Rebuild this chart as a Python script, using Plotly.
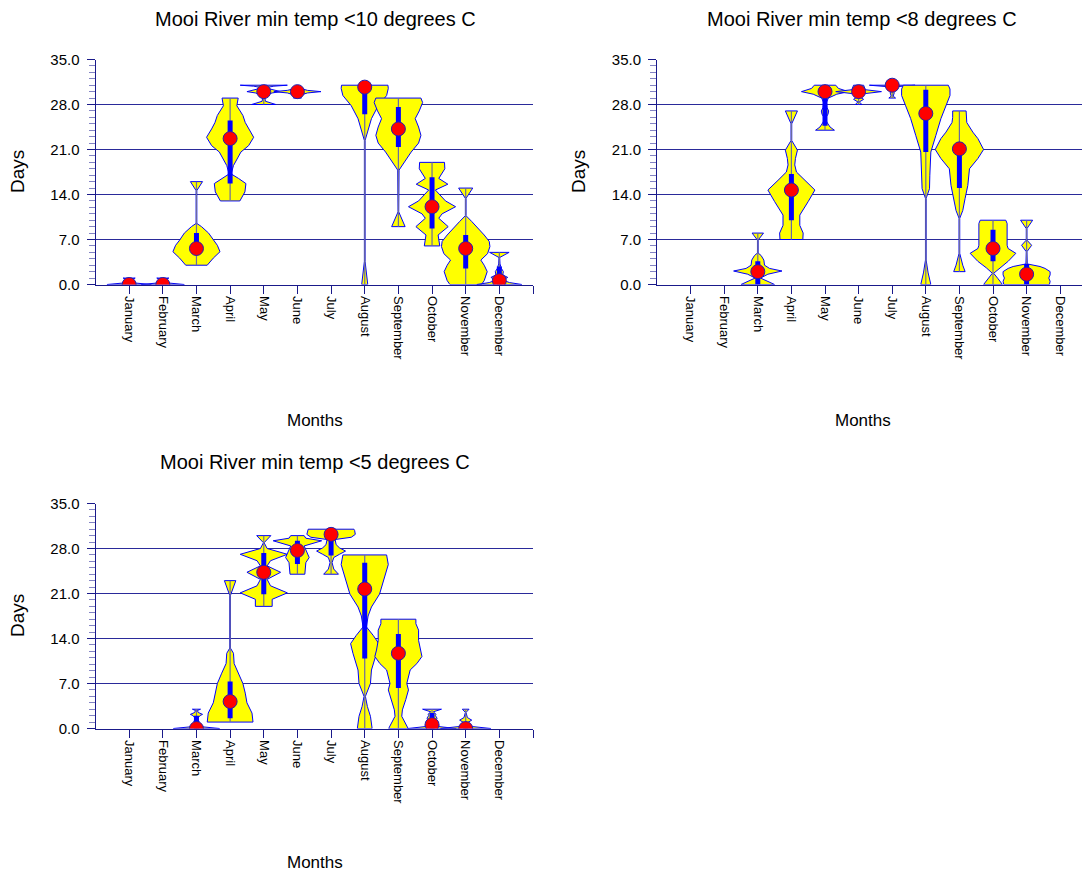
import plotly.graph_objects as go

MONTHS = ["January", "February", "March", "April", "May", "June", "July",
          "August", "September", "October", "November", "December"]
Y_TICKS = [0, 7, 14, 21, 28, 35]
Y_TICK_TEXT = ["0.0", "7.0", "14.0", "21.0", "28.0", "35.0"]
GRID_DAYS = [7, 14, 21, 28]

# ---- Panel 1: min temp < 10 C  (density profile: (days, half-width in month units))
PROFILE_LT10 = {
    "January": [(0, 0.66), (0.15, 0.3), (0.3, 0.03), (0.7, 0.03), (0.85, 0.1), (1.0, 0.18)],
    "February": [(0, 0.64), (0.15, 0.3), (0.3, 0.03), (0.7, 0.03), (0.85, 0.1), (1.0, 0.18)],
    "March": [(3, 0.32), (4.1, 0.5), (5.1, 0.7), (6.1, 0.62), (6.9, 0.5), (8, 0.36), (9, 0.15),
              (9.5, 0.01), (14.6, 0.01), (16, 0.18)],
    "April": [(13, 0.29), (14.4, 0.44), (15.7, 0.47), (16.5, 0.25), (17.2, 0.03), (18.5, 0.1),
              (20.6, 0.32), (21.6, 0.55), (22.9, 0.7), (24.2, 0.55), (25.2, 0.45), (26.3, 0.38),
              (27.8, 0.2), (29, 0.24)],
    "May": [(28, 0.36), (28.5, 0.05), (29.4, 0.02), (29.8, 0.25), (30, 0.5), (30.3, 0.25),
            (30.6, 0.04), (30.85, 0.3), (31, 0.7)],
    "June": [(29, 0.12), (29.4, 0.05), (29.8, 0.3), (30, 0.7), (30.2, 0.3), (30.6, 0.02)],
    "July": [],
    "August": [(0, 0.09), (1.5, 0.05), (3.6, 0.01), (22.4, 0.01), (23.7, 0.08), (25.8, 0.2),
               (27.8, 0.4), (29.4, 0.65), (30.5, 0.7), (31, 0.69)],
    "September": [(9, 0.2), (10.2, 0.1), (11.3, 0.01), (17.8, 0.02), (19, 0.18), (20.6, 0.38),
                  (22, 0.6), (23.2, 0.67), (24.5, 0.6), (25.8, 0.5), (27, 0.62), (28.3, 0.72),
                  (29, 0.67)],
    "October": [(6, 0.23), (7.7, 0.18), (9, 0.48), (10.3, 0.2), (11, 0.3), (12.1, 0.7), (13, 0.4),
                (14.7, 0.1), (15.6, 0.47), (16.5, 0.2), (18, 0.38), (19, 0.37)],
    "November": [(0, 0.47), (0.6, 0.55), (2, 0.64), (3, 0.55), (3.8, 0.45), (4.8, 0.65),
                 (5.9, 0.72), (6.7, 0.7), (7.7, 0.55), (8.7, 0.38), (9.8, 0.18), (10.7, 0.01),
                 (13.4, 0.01), (15, 0.21)],
    "December": [(0, 0.67), (0.3, 0.3), (0.7, 0.1), (1.1, 0.25), (1.5, 0.1), (2, 0.12),
                 (2.5, 0.06), (3.2, 0.02), (4.2, 0.01), (5, 0.29)],
}
MEDIAN_LT10 = [0, 0, 5.6, 22.7, 30, 30, None, 30.7, 24.2, 12.1, 5.6, 0.6]
Q1_LT10 = [0, 0, 4.8, 15.7, 30, 30, None, 26.5, 21.4, 8.7, 2.5, 0]
Q3_LT10 = [0, 0, 8.0, 25.5, 30, 30, None, 31, 27.6, 16.7, 7.7, 2.8]
MIN_LT10 = [0, 0, 3, 13, 28, 29, None, 0, 9, 6, 0, 0]
MAX_LT10 = [1, 1, 16, 29, 31, 30.6, None, 31, 29, 19, 15, 5]

# ---- Panel 2: min temp < 8 C
PROFILE_LT8 = {
    "January": [], "February": [],
    "March": [(0, 0.5), (0.5, 0.28), (1, 0.08), (1.6, 0.3), (2.1, 0.72), (2.5, 0.35), (3, 0.2),
              (3.8, 0.18), (4.5, 0.1), (4.9, 0.01), (6.9, 0.01), (8, 0.17)],
    "April": [(7, 0.34), (8, 0.35), (9.2, 0.25), (10.8, 0.25), (12.9, 0.5), (14.7, 0.7),
              (16.2, 0.4), (17.5, 0.15), (18.6, 0.1), (19.6, 0.12), (20.9, 0.18), (22.4, 0.01),
              (25, 0.01), (27, 0.18)],
    "May": [(24, 0.28), (24.5, 0.15), (25.3, 0.05), (26, 0.03), (26.5, 0.09), (27, 0.11),
            (27.5, 0.06), (28.3, 0.04), (29, 0.1), (29.6, 0.35), (30, 0.7), (30.5, 0.4),
            (31, 0.32)],
    "June": [(28, 0.1), (28.4, 0.02), (28.8, 0.15), (29.2, 0.03), (29.7, 0.2), (30, 0.68),
             (30.3, 0.2), (31, 0.15)],
    "July": [(29, 0.1), (29.3, 0.03), (29.8, 0.06), (30.3, 0.02), (30.8, 0.2), (31, 0.68)],
    "August": [(0, 0.15), (1.8, 0.07), (3.8, 0.01), (13.4, 0.01), (14.9, 0.11), (17, 0.12),
               (20.6, 0.15), (23.2, 0.3), (25.8, 0.45), (27.8, 0.6), (29.4, 0.72), (30.4, 0.72),
               (31, 0.67)],
    "September": [(2, 0.17), (3, 0.1), (4.85, 0.01), (10.3, 0.01), (11.5, 0.1), (13.4, 0.17),
                  (15.4, 0.25), (18, 0.3), (19.6, 0.55), (21, 0.72), (22.7, 0.55), (23.7, 0.4),
                  (25.2, 0.22), (26, 0.2), (27, 0.2)],
    "October": [(0, 0.28), (0.9, 0.15), (1.75, 0.02), (2.6, 0.2), (3.6, 0.45), (4.85, 0.68),
                (5.6, 0.45), (6.1, 0.42), (9.5, 0.42), (10, 0.38)],
    "November": [(0, 0.68), (0.5, 0.7), (1, 0.66), (1.5, 0.7), (2, 0.7), (2.5, 0.55), (2.8, 0.4),
                 (3.2, 0.02), (5.1, 0.01), (6.1, 0.15), (6.9, 0.01), (8.7, 0.01), (10, 0.18)],
    "December": [],
}
MEDIAN_LT8 = [None, None, 2.0, 14.7, 30, 30, 31, 26.6, 21.1, 5.6, 1.6, None]
Q1_LT8 = [None, None, 0, 10.0, 24.7, 30, 31, 20.6, 15.0, 3.6, 0, None]
Q3_LT8 = [None, None, 3.6, 17.2, 30, 30, 31, 30.3, 21.5, 8.5, 3.2, None]
MIN_LT8 = [None, None, 0, 7, 24, 28, 29, 0, 2, 0, 0, None]
MAX_LT8 = [None, None, 8, 27, 31, 31, 31, 31, 27, 10, 10, None]

# ---- Panel 3: min temp < 5 C
PROFILE_LT5 = {
    "January": [], "February": [],
    "March": [(0, 0.69), (0.3, 0.1), (0.7, 0.03), (1.1, 0.08), (1.5, 0.03), (2.0, 0.1),
              (2.2, 0.18), (2.5, 0.05), (2.8, 0.03), (3, 0.12)],
    "April": [(1, 0.68), (2.4, 0.65), (4, 0.5), (5.5, 0.45), (7, 0.38), (8.6, 0.25), (10.1, 0.12),
              (11.7, 0.1), (12.5, 0.01), (20.7, 0.01), (23, 0.17)],
    "May": [(19, 0.25), (20.1, 0.25), (21.1, 0.7), (22.2, 0.2), (23.2, 0.1), (24.3, 0.5),
            (25.3, 0.1), (26.1, 0.2), (27.1, 0.7), (28, 0.1), (28.9, 0.01), (30, 0.21)],
    "June": [(24, 0.22), (25.8, 0.25), (26.6, 0.35), (27.7, 0.25), (28.4, 0.2), (29.2, 0.72),
             (29.6, 0.25), (30, 0.2)],
    "July": [(24, 0.22), (24.8, 0.08), (25.8, 0.03), (26.6, 0.08), (27.1, 0.25), (27.6, 0.43),
             (28.1, 0.25), (28.6, 0.15), (29.4, 0.12), (29.75, 0.6), (30.2, 0.72), (30.8, 0.7),
             (31, 0.68)],
    "August": [(0, 0.22), (1.9, 0.17), (3.4, 0.08), (5, 0.02), (7, 0.17), (9.1, 0.2),
               (11.7, 0.35), (13.2, 0.42), (14.5, 0.25), (15.8, 0.05), (17.5, 0.1), (18.9, 0.2),
               (20.9, 0.44), (23, 0.55), (25.5, 0.7), (27, 0.65)],
    "September": [(0, 0.29), (1.9, 0.1), (2.9, 0.12), (4.5, 0.22), (6, 0.3), (7, 0.25),
                  (9.1, 0.35), (10.1, 0.55), (11.2, 0.7), (12.2, 0.65), (13.7, 0.6), (15.3, 0.6),
                  (16.3, 0.52), (17, 0.52)],
    "October": [(0, 0.72), (0.3, 0.2), (0.6, 0.2), (0.9, 0.05), (1.1, 0.08), (1.6, 0.15),
                (2.0, 0.1), (2.2, 0.12), (2.6, 0.04), (3, 0.28)],
    "November": [(0, 0.75), (0.3, 0.2), (0.6, 0.05), (0.9, 0.05), (1.3, 0.18), (1.7, 0.05),
                 (2.5, 0.01), (3, 0.1)],
    "December": [],
}
MEDIAN_LT5 = [None, None, 0, 4.2, 24.3, 27.7, 30.2, 21.7, 11.7, 0.6, 0, None]
Q1_LT5 = [None, None, 0, 1.6, 20.9, 25.6, 26.9, 10.9, 6.3, 0, 0, None]
Q3_LT5 = [None, None, 2.0, 7.3, 27.3, 29.2, 31, 25.8, 14.7, 2.4, 1.0, None]
MIN_LT5 = [None, None, 0, 1, 19, 24, 24, 0, 0, 0, 0, None]
MAX_LT5 = [None, None, 3, 23, 30, 30, 31, 27, 17, 3, 3, None]

TITLES = ["Mooi River min temp <10 degrees C", "Mooi River min temp <8 degrees C",
          "Mooi River min temp <5 degrees C"]

FONT = "Liberation Sans, Arial, sans-serif"
NAVY = "#1a1a8a"
GRID = "#2a2a9a"
YELLOW = "#FFFF00"
BLUE = "#0000FF"

fig = go.Figure()

panels = [
    dict(prof=PROFILE_LT10, med=MEDIAN_LT10, q1=Q1_LT10, q3=Q3_LT10, mn=MIN_LT10, mx=MAX_LT10,
         xa="x", ya="y"),
    dict(prof=PROFILE_LT8, med=MEDIAN_LT8, q1=Q1_LT8, q3=Q3_LT8, mn=MIN_LT8, mx=MAX_LT8,
         xa="x2", ya="y2"),
    dict(prof=PROFILE_LT5, med=MEDIAN_LT5, q1=Q1_LT5, q3=Q3_LT5, mn=MIN_LT5, mx=MAX_LT5,
         xa="x3", ya="y3"),
]

for p in panels:
    # violin bodies
    for i, m in enumerate(MONTHS):
        prof = p["prof"][m]
        if not prof:
            continue
        c = i + 1
        days = [d for d, w in prof]
        hws = [w for d, w in prof]
        xs = [c - w for w in hws] + [c + w for w in reversed(hws)] + [c - hws[0]]
        ys = days + list(reversed(days)) + [days[0]]
        fig.add_trace(go.Scatter(x=xs, y=ys, xaxis=p["xa"], yaxis=p["ya"], mode="lines",
                                 fill="toself", fillcolor=YELLOW,
                                 line=dict(color=BLUE, width=1), hoverinfo="skip",
                                 showlegend=False))
    # thin whisker line (min..max)
    tx, ty = [], []
    for i in range(12):
        if p["mn"][i] is None:
            continue
        tx += [i + 1, i + 1, None]
        ty += [p["mn"][i], p["mx"][i], None]
    fig.add_trace(go.Scatter(x=tx, y=ty, xaxis=p["xa"], yaxis=p["ya"], mode="lines",
                             line=dict(color="#6a6aa0", width=1.2), hoverinfo="skip",
                             showlegend=False))
    # thick IQR bar
    bx, by = [], []
    for i in range(12):
        if p["q1"][i] is None:
            continue
        bx += [i + 1, i + 1, None]
        by += [p["q1"][i], p["q3"][i], None]
    fig.add_trace(go.Scatter(x=bx, y=by, xaxis=p["xa"], yaxis=p["ya"], mode="lines",
                             line=dict(color=BLUE, width=5), hoverinfo="skip",
                             showlegend=False))
    # median dots
    mx_, my_ = [], []
    for i in range(12):
        if p["med"][i] is None:
            continue
        mx_.append(i + 1)
        my_.append(p["med"][i])
    fig.add_trace(go.Scatter(x=mx_, y=my_, xaxis=p["xa"], yaxis=p["ya"], mode="markers",
                             marker=dict(color="#FF0000", size=14,
                                         line=dict(color="#2020B0", width=1)),
                             hoverinfo="skip", showlegend=False))

W, H = 1090, 873
OFF = 8  # the page body margin shifts the figure by this many pixels


def px_x(v):
    return (v - OFF) / W


def px_y(v):
    return 1 - (v - OFF) / H


xdom_left = [px_x(95.5), px_x(533)]
xdom_right = [px_x(657), px_x(657 + 13 * 33.6)]
# 45 px per week so that the weekly grid lines fall on whole pixel rows
ydom_top = [px_y(284.5), px_y(284.5 - 225)]
ydom_bot = [px_y(728.5), px_y(728.5 - 225)]

xaxis_common = dict(
    tickmode="array", tickvals=list(range(1, 14)), ticktext=MONTHS + [""],
    tickangle=90, ticks="outside", ticklen=8, tickcolor=NAVY, tickwidth=1,
    showline=True, linecolor=NAVY, linewidth=1, showgrid=False, zeroline=False,
    tickfont=dict(family=FONT, size=13, color="black"), automargin=False, range=[0, 13],
)
yaxis_common = dict(
    tickmode="array", tickvals=Y_TICKS, ticktext=Y_TICK_TEXT, range=[0, 35],
    ticks="outside", ticklen=8, tickcolor=NAVY, tickwidth=1, ticklabelstandoff=4,
    showline=True, linecolor=NAVY, linewidth=1, showgrid=False, zeroline=False,
    tickfont=dict(family=FONT, size=15, color="black"), automargin=False,
    minor=dict(dtick=1, tick0=0, ticks="outside", ticklen=6, tickcolor="#8484c4",
               tickwidth=1, showgrid=False),
)

fig.update_layout(
    template="none",
    width=W, height=H, margin=dict(l=0, r=0, t=0, b=0, pad=0, autoexpand=False),
    paper_bgcolor="white", plot_bgcolor="white", showlegend=False,
    xaxis=dict(domain=xdom_left, anchor="y", **xaxis_common),
    yaxis=dict(domain=ydom_top, anchor="x", **yaxis_common),
    xaxis2=dict(domain=xdom_right, anchor="y2", **xaxis_common),
    yaxis2=dict(domain=ydom_top, anchor="x2", **yaxis_common),
    xaxis3=dict(domain=xdom_left, anchor="y3", **xaxis_common),
    yaxis3=dict(domain=ydom_bot, anchor="x3", **yaxis_common),
)

# horizontal grid lines at weekly intervals
shapes = []
for xa, ya in [("x", "y"), ("x2", "y2"), ("x3", "y3")]:
    for g in GRID_DAYS:
        shapes.append(dict(type="line", xref=f"{xa} domain", yref=ya, x0=0, x1=1, y0=g, y1=g,
                           line=dict(color=GRID, width=1), layer="below"))
fig.update_layout(shapes=shapes)

ann = []
title_pos = [(315, 19.5), (862, 19.5), (315, 462)]
for t, (x, y) in zip(TITLES, title_pos):
    ann.append(dict(text=t, x=px_x(x), y=px_y(y), xref="paper", yref="paper",
                    showarrow=False, xanchor="center", yanchor="middle",
                    font=dict(family=FONT, size=20, color="black")))
for (x, y) in [(17, 172), (578, 172), (17, 616)]:
    ann.append(dict(text="Days", x=px_x(x), y=px_y(y), xref="paper", yref="paper",
                    showarrow=False, textangle=-90, xanchor="center", yanchor="middle",
                    font=dict(family=FONT, size=19, color="black")))
for (x, y) in [(315, 420), (863, 420), (315, 862)]:
    ann.append(dict(text="Months", x=px_x(x), y=px_y(y), xref="paper", yref="paper",
                    showarrow=False, xanchor="center", yanchor="middle",
                    font=dict(family=FONT, size=17, color="black")))
fig.update_layout(annotations=ann)

fig.write_html("out.html")
